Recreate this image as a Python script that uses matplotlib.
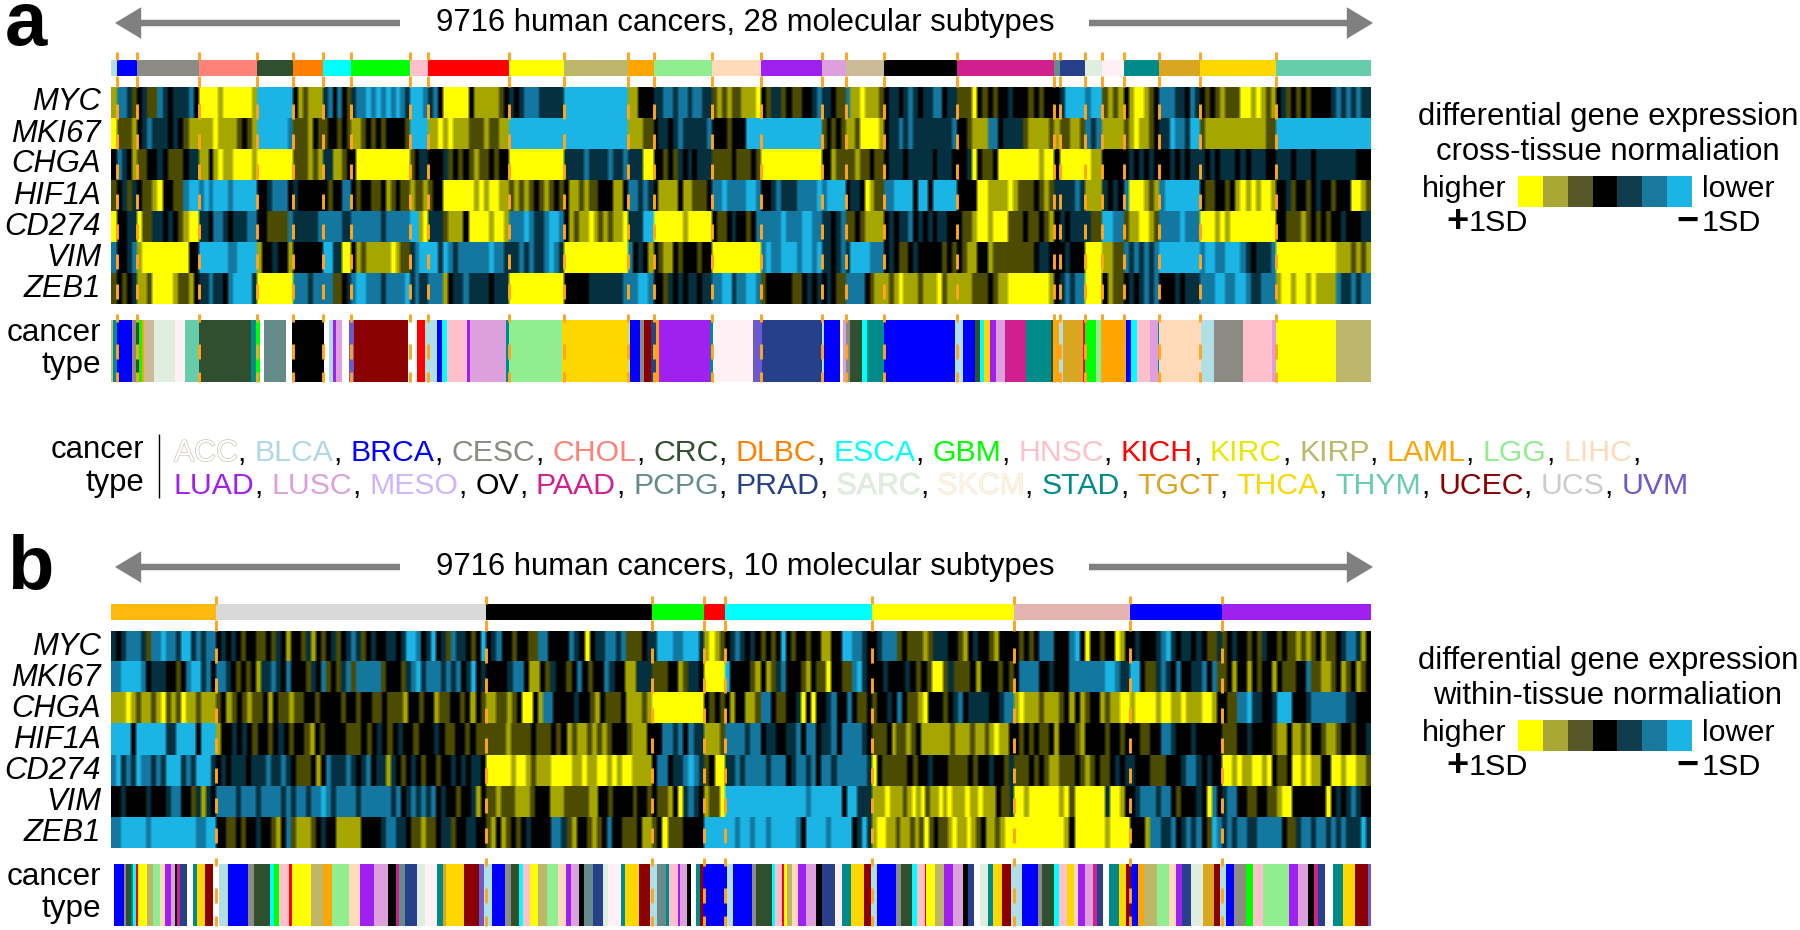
#!/usr/bin/env python3
"""Two-panel expression heat strip: 9716 tumours by molecular subtype."""

import numpy as np
import matplotlib
matplotlib.use('Agg')
import matplotlib.pyplot as plt
import matplotlib.patheffects as pe
from matplotlib.colors import ListedColormap, to_rgb

plt.rcParams['font.family'] = ['Liberation Sans', 'DejaVu Sans']

W, H = 1800, 930
N_SAMPLES = 9716
HEAT_X0, HEAT_X1 = 111, 1371

GENES = ['MYC', 'MKI67', 'CHGA', 'HIF1A', 'CD274', 'VIM', 'ZEB1']

# 0 = yellow (+1SD) ... 3 = black ... 6 = blue (-1SD)
KEY_COLORS = ['#FFFF00', '#A8A836', '#575728', '#000000', '#0F3D4D', '#18799C', '#1BB5E5']
HEAT_COLORS = ['#FFFF00', '#A6A600', '#4C4C00', '#000000', '#05303F', '#14789F', '#1BB5E5']

CANCER_COLORS = {
    'ACC': '#CDBA96', 'BLCA': '#B0E0E6', 'BRCA': '#0000FF', 'CESC': '#8B8B83',
    'CHOL': '#FF8278', 'CRC': '#2F4F2F', 'DLBC': '#FF8000', 'ESCA': '#00FFFF',
    'GBM': '#00FF00', 'HNSC': '#FFC0CB', 'KICH': '#FF0000', 'KIRC': '#FFFF00',
    'KIRP': '#BDB76B', 'LAML': '#FFA500', 'LGG': '#90EE90', 'LIHC': '#FFDAB9',
    'LUAD': '#A020F0', 'LUSC': '#DDA0DD', 'MESO': '#CDB5FF', 'OV': '#000000',
    'PAAD': '#D02090', 'PCPG': '#668B8B', 'PRAD': '#27408B', 'SARC': '#E0EEE0',
    'SKCM': '#FFF0F5', 'STAD': '#008B8B', 'TGCT': '#DAA520', 'THCA': '#FFD700',
    'THYM': '#66CDAA', 'UCEC': '#8B0000', 'UCS': '#CCCCCC', 'UVM': '#6A5ACD',
    '-': '#FFFFFF',
}
LEGEND_WORD_COLORS = {'ACC': '#FFFFFF', 'SKCM': '#FFF3E0', 'KIRC': '#E8E800', 'BLCA': '#ADD8E6'}
LEGEND_LINE1 = ['ACC', 'BLCA', 'BRCA', 'CESC', 'CHOL', 'CRC', 'DLBC', 'ESCA', 'GBM',
                'HNSC', 'KICH', 'KIRC', 'KIRP', 'LAML', 'LGG', 'LIHC']
LEGEND_LINE2 = ['LUAD', 'LUSC', 'MESO', 'OV', 'PAAD', 'PCPG', 'PRAD', 'SARC', 'SKCM',
                'STAD', 'TGCT', 'THCA', 'THYM', 'UCEC', 'UCS', 'UVM']

# panel a: 28 subtypes
A_SIZES = [46, 151, 482, 444, 283, 230, 217, 455, 134, 630, 423, 489, 200, 450,
           378, 471, 182, 296, 561, 750, 46, 193, 131, 169, 274, 312, 586, 733]
A_COLORS = ['#B0E0E6', '#0000FF', '#8B8B83', '#FF8278', '#2F4F2F', '#FF8000', '#00FFFF',
            '#00FF00', '#FFC0CB', '#FF0000', '#FFFF00', '#BDB76B', '#FFA500', '#90EE90',
            '#FFDAB9', '#A020F0', '#DDA0DD', '#CDBA96', '#000000', '#D02090', '#668B8B',
            '#27408B', '#E0EEE0', '#FFF0F5', '#008B8B', '#DAA520', '#FFD700', '#66CDAA']

A_MYC = ["1", "5542", "342254344453", "000010000001", "6666666", "312111", "453532", "455656565654", "6665", "4530000031111123", "43455544444", "6666666666666", "11333", "445545545544", "2121221110", "324423223345", "44322", "51101112", "344345434455344", "2220323233433323233", "3", "46666", "566", "2121", "3100123", "55544354", "323212220010121", "3423232333345454544"]
A_MKI67 = ["0", "2221", "345444343211", "111011112321", "6666665", "222132", "233232", "112323233332", "6666", "1101011122212211", "66666666666", "6666666666666", "11122", "344345444445", "3332333666", "666666666666", "23232", "11200001", "344545444444445", "3321115534444211112", "1", "22112", "545", "1111", "2101123", "44655466", "211111111111122", "6666666666666666666"]
A_CHGA = ["3", "5431", "223343222344", "113101100001", "0000000", "222121", "441123", "300000000000", "2344", "3334232321223233", "00000000000", "4444544445445", "44400", "332324343444", "2222322232", "000000000000", "33122", "22122322", "344434444434443", "3340322300000000100", "3", "00000", "011", "3333", "3434343", "33434344", "434344434344433", "4443444344444444333"]
A_HIF1A = ["2", "3424", "322103322566", "565666566666", "3345553", "433333", "323355", "323322312322", "1221", "2330000001010011", "21212321232", "3112122333113", "55454", "311113112223", "5565555665", "334544455556", "56666", "34430122", "556666366366666", "3333001111012223212", "4", "44454", "111", "4343", "5000121", "56666666", "322332310101001", "3342332343323330012"]
A_CD274 = ["0", "3344", "022443432100", "443554344455", "3322225", "444445", "555544", "555555455555", "6610", "4442111300001001", "55565445665", "3121101212110", "44466", "000000100000", "3223433235", "555565556655", "44345", "22321111", "343445343434433", "3221001000222322321", "3", "43444", "422", "6655", "2110012", "55556555", "000101000000000", "3322212323233433344"]
A_VIM = ["5", "3345", "100000000033", "666666556666", "1334331", "333333", "664400", "312111110122", "4566", "6646545555556554", "44545445654", "0000000000000", "53431", "321132333233", "0000000000", "565566656656", "44345", "46666555", "343223433333232", "3211331222222223443", "3", "34333", "000", "1122", "5454545", "66666666", "566556665434445", "0000000000001112121"]
A_ZEB1 = ["2", "3234", "112000012213", "445443566664", "0000000", "555455", "552234", "566555455556", "4544", "5551344544443444", "00000000000", "3333344444445", "55665", "332434344344", "5566455665", "233333223434", "34322", "55553211", "121011121110211", "1112223211000000001", "3", "45455", "000", "3122", "3434545", "33343444", "555665566544555", "1001001011115445455"]

# cancer type runs, read as (code, end position) along the strip
A_TYPES_LEFT = [('ACC', 253), ('STAD', 262), ('BRCA', 295), ('CESC', 305), ('CRC', 311), ('GBM', 317), ('LAML', 323),
                ('ACC', 345), ('SARC', 393), ('SKCM', 414), ('THYM', 446), ('CRC', 563), ('STAD', 573), ('GBM', 582),
                ('-', 592), ('PCPG', 641), ('-', 655), ('OV', 725), ('-', 738), ('BLCA', 745), ('LUAD', 752),
                ('LUSC', 765), ('-', 782), ('UVM', 793), ('UCEC', 914), ('-', 935), ('KICH', 951), ('BLCA', 980),
                ('BRCA', 990), ('ESCA', 1002), ('HNSC', 1047), ('LUAD', 1053), ('LUSC', 1134), ('STAD', 1141),
                ('LGG', 1260), ('THCA', 1408), ('BLCA', 1412), ('BRCA', 1434), ('CESC', 1442), ('UCEC', 1458),
                ('PRAD', 1470), ('LAML', 1476)]
A_TYPES_RIGHT = [('LUAD', 68), ('STAD', 75), ('SKCM', 163), ('UVM', 183), ('PRAD', 318), ('BLCA', 322), ('BRCA', 358),
                 ('-', 366), ('LUSC', 372), ('CESC', 380), ('CRC', 408), ('ESCA', 420), ('STAD', 456), ('BRCA', 617),
                 ('BLCA', 635), ('BRCA', 660), ('CRC', 672), ('ESCA', 680), ('THCA', 694), ('LUAD', 708), ('LUSC', 728),
                 ('PAAD', 775), ('STAD', 830), ('CRC', 835), ('LAML', 850), ('BLCA', 858), ('TGCT', 902), ('KICH', 908),
                 ('GBM', 932), ('LGG', 944), ('LAML', 998), ('BRCA', 1010), ('ESCA', 1024), ('HNSC', 1053), ('LUSC', 1070),
                 ('STAD', 1074), ('LIHC', 1168), ('BLCA', 1196), ('CESC', 1261), ('HNSC', 1326), ('LUSC', 1336),
                 ('KIRC', 1470), ('KIRP', 1548)]

# panel b: 10 subtypes
B_SIZES = [810, 2082, 1280, 401, 162, 1133, 1095, 895, 709, 1149]
B_COLORS = ['#FFB90F', '#D9D9D9', '#000000', '#00FF00', '#FF0000', '#00FFFF', '#FFFF00',
            '#E6B3B3', '#0000FF', '#A020F0']

B_MYC = ["434555425565546645455", "343432332232431332413234234542343344346653463425443236", "34533233225533335430344554522234", "4666556664", "1012", "34543432323632332331133665543", "3455523222124443321343321333", "32323555333563033233013", "343334564344343224", "234332324332322121231223455413"]
B_MKI67 = ["556666534443323566453", "554323231445435333243523245255555233324564555454534634", "3333455311324332353233543311444", "2223312443", "0000", "63333213124533321322033225643", "33433343232002422231333232", "35555334333555555566544", "663224543533445352", "231331323313222335221123123123"]
B_CHGA = ["111012112102120112111", "2312321223132212233233332332332232221332331223323132", "11221230031553333433213222311121", "0000000000", "3232", "31331125532233403033453353223", "2334353221033323453444433455", "10111211123131233121100", "100001001101110013", "322556443346663334555555544333"]
B_HIF1A = ["666636666664466663666", "1334343233234323321323333222323432343323334322332322", "222212222322232312112121233321113", "3355453544", "1112", "55554553443344535534453555543", "22231221231111112111211210113", "32323223133321333323323", "332233554333433333", "222334333321131121332112332334"]
B_CD274 = ["564546554546664546664", "343444344454454322231354445434534414323432332334343443", "000001001211100001101100101001111", "3553445654", "2300", "44545555455534554535545555554", "0322222323343332222323343324", "22232321122232123223434", "433322233345543433", "001011001032230010113300100112"]
B_VIM = ["334333343334553324143", "555545554555545455455654555545555554534545453433233413", "2212221112333111222221133233332332", "3221304543", "1220", "66666666666666665666666366444", "11101112101021101011101101113224", "00100000010200000040013", "345554553233343053", "455332233221003333333034345433"]
B_ZEB1 = ["556666656666666665566", "332232334332135211123433111113333455443221223442334433", "213123234333355421332123533222311", "2302223333", "6666", "66566566566666536666566663464", "100112112120232210110123112100", "00000000001300000010000", "333155445345453265", "454554455555322455455454544464"]

B_TYPES_LEFT = [('-', 255), ('BRCA', 278), ('CESC', 283), ('CRC', 293), ('STAD', 298), ('ESCA', 305), ('KICH', 310),
                ('KIRC', 330), ('KIRP', 342), ('LGG', 358), ('LIHC', 370), ('LUAD', 384), ('LUSC', 392), ('OV', 396),
                ('PAAD', 403), ('PRAD', 419), ('-', 432), ('STAD', 441), ('THCA', 460), ('UCEC', 478), ('-', 490),
                ('BLCA', 510), ('BRCA', 556), ('CESC', 570), ('CRC', 605), ('ESCA', 613), ('GBM', 625), ('HNSC', 647),
                ('KICH', 653), ('KIRC', 696), ('KIRP', 723), ('LAML', 744), ('LGG', 782), ('LIHC', 806), ('LUAD', 838),
                ('LUSC', 869), ('OV', 887), ('PAAD', 893), ('PCPG', 907), ('PRAD', 933), ('SARC', 953), ('SKCM', 979),
                ('STAD', 992), ('TGCT', 1000), ('THCA', 1040), ('UCEC', 1073), ('UVM', 1085), ('BLCA', 1102),
                ('BRCA', 1132), ('CESC', 1145), ('CRC', 1162), ('ESCA', 1172), ('HNSC', 1187), ('KIRC', 1205),
                ('KIRP', 1225), ('LGG', 1250), ('LIHC', 1267), ('LUAD', 1280), ('LUSC', 1297), ('OV', 1308),
                ('PCPG', 1328), ('PRAD', 1350), ('SARC', 1362), ('SKCM', 1391), ('STAD', 1401), ('THCA', 1432),
                ('UCEC', 1455), ('BLCA', 1472), ('PCPG', 1492), ('STAD', 1498), ('HNSC', 1518), ('LUAD', 1524),
                ('LUSC', 1538), ('OV', 1548), ('LIHC', 1568)]
B_TYPES_RIGHT = [('LUSC', 15), ('OV', 25), ('-', 35), ('STAD', 45), ('UCEC', 52), ('BRCA', 105), ('BLCA', 118),
                 ('BRCA', 162), ('CESC', 170), ('CRC', 205), ('ESCA', 212), ('HNSC', 228), ('KICH', 233), ('KIRC', 240),
                 ('KIRP', 252), ('LIHC', 265), ('LUAD', 283), ('LUSC', 305), ('OV', 318), ('PRAD', 348), ('SKCM', 362),
                 ('STAD', 382), ('THCA', 412), ('UCEC', 428), ('BLCA', 442), ('BRCA', 483), ('CESC', 495), ('CRC', 520),
                 ('ESCA', 532), ('HNSC', 548), ('KICH', 552), ('KIRC', 572), ('KIRP', 592), ('LUAD', 612), ('LUSC', 634),
                 ('OV', 645), ('PRAD', 658), ('-', 672), ('SARC', 690), ('STAD', 702), ('THCA', 722), ('UCEC', 742),
                 ('BLCA', 765), ('BRCA', 802), ('CESC', 810), ('CRC', 838), ('ESCA', 848), ('HNSC', 868), ('THCA', 882),
                 ('LIHC', 892), ('LUAD', 908), ('LUSC', 925), ('PAAD', 935), ('PRAD', 948), ('-', 960), ('STAD', 983),
                 ('THCA', 998), ('UCEC', 1010), ('BRCA', 1025), ('LAML', 1040), ('KIRP', 1068), ('LGG', 1095),
                 ('LIHC', 1112), ('LUAD', 1125), ('PRAD', 1145), ('SARC', 1172), ('TGCT', 1197), ('UCEC', 1210),
                 ('BLCA', 1222), ('BRCA', 1241), ('CESC', 1268), ('GBM', 1284), ('HNSC', 1306), ('LGG', 1365),
                 ('LUAD', 1385), ('LUSC', 1407), ('OV', 1420), ('PAAD', 1430), ('PRAD', 1445), ('-', 1463),
                 ('STAD', 1485), ('THCA', 1513), ('UCEC', 1541), ('UVM', 1548)]

DIVIDER = '#FFA51F'
ARROW = '#808080'
LABEL_PX = 30.5
GENE_PX = 31


def pt(px):
    return px * 72 / 100


fig = plt.figure(figsize=(W / 100, H / 100), dpi=100, facecolor='white')


def strip_axes(y0, y1):
    ax = fig.add_axes([HEAT_X0 / W, 1 - y1 / H, (HEAT_X1 - HEAT_X0) / W, (y1 - y0) / H])
    ax.set_xlim(0, N_SAMPLES)
    ax.axis('off')
    return ax


def draw_bar(y0, y1, sizes, colors):
    ax = strip_axes(y0, y1)
    ax.set_ylim(0, 1)
    left = np.concatenate([[0], np.cumsum(sizes)[:-1]])
    ax.barh(0.5, sizes, left=left, height=1, color=colors, linewidth=0)


def draw_heat(y0, y1, rows, sizes):
    ax = strip_axes(y0, y1)
    edges = np.concatenate([[0], np.cumsum(sizes)])
    palette = np.array([to_rgb(c) for c in HEAT_COLORS])
    n_cols = HEAT_X1 - HEAT_X0
    centers = (np.arange(n_cols) + 0.5) / n_cols * N_SAMPLES
    img = np.zeros((len(rows), n_cols, 3))
    for i, row in enumerate(rows):
        xs = [np.linspace(edges[j], edges[j + 1], len(s), endpoint=False) for j, s in enumerate(row)]
        xs = np.concatenate(xs)
        vals = np.array([int(c) for c in ''.join(row)])
        rgb = palette[vals[np.searchsorted(xs, centers, side='right') - 1]]
        # the source is a soft bitmap, so take the hard edge off the stripes
        pad = np.pad(rgb, ((1, 1), (0, 0)), mode='edge')
        img[i] = (pad[:-2] + pad[1:-1] + pad[2:]) / 3
    ax.imshow(img, extent=(0, N_SAMPLES, len(rows), 0), aspect='auto', interpolation='nearest')
    ax.axis('off')


def draw_types(y0, y1, left_runs, right_runs):
    ax = strip_axes(y0, y1)
    ax.set_ylim(0, 1)
    # positions were read at 2.24 units per pixel, the right half from x=680
    ends = [e for _, e in left_runs] + [e + 680 * 2.24 for _, e in right_runs]
    ends = (np.array(ends) - HEAT_X0 * 2.24) / ((HEAT_X1 - HEAT_X0) * 2.24) * N_SAMPLES
    starts = np.concatenate([[0], ends[:-1]])
    codes = [c for c, _ in left_runs + right_runs]
    ax.barh(0.5, ends - starts, left=starts, height=1,
            color=[CANCER_COLORS[c] for c in codes], linewidth=0)


overlay = fig.add_axes([0, 0, 1, 1], zorder=10)
overlay.set_xlim(0, W)
overlay.set_ylim(H, 0)
overlay.axis('off')
overlay.patch.set_alpha(0)


def panel(letter, letter_xy, dy, title, sizes, colors, rows, left_runs, right_runs, norm_label):
    """dy is the vertical offset of the panel, layout below is given for panel a."""
    bar = (60 + dy, 76 + dy)
    heat = (87 + dy, 304 + dy)
    types = (320 + dy, 382 + dy)
    draw_bar(bar[0], bar[1], sizes, colors)
    draw_heat(heat[0], heat[1], rows, sizes)
    draw_types(types[0], types[1], left_runs, right_runs)

    overlay.text(letter_xy[0], letter_xy[1], letter, fontsize=pt(76), fontweight='bold', va='baseline', ha='left')
    overlay.text(745, 23 + dy, title, fontsize=pt(31), ha='center', va='center')
    for x0, x1 in [(400, 115), (1089, 1373)]:
        overlay.annotate('', xy=(x1, 23 + dy), xytext=(x0, 23 + dy),
                         arrowprops=dict(arrowstyle='simple,head_length=1.45,head_width=1.75,tail_width=0.36',
                                         color=ARROW, shrinkA=0, shrinkB=0, lw=0, mutation_scale=13))

    row_h = (heat[1] - heat[0]) / len(GENES)
    for i, gene in enumerate(GENES):
        overlay.text(101, heat[0] + row_h * (i + 0.5), gene, fontsize=pt(GENE_PX), style='italic',
                     ha='right', va='center')
    overlay.text(101, 333 + dy, 'cancer', fontsize=pt(31.5), ha='right', va='center')
    overlay.text(101, 365 + dy, 'type', fontsize=pt(31.5), ha='right', va='center')

    # subtype dividers, broken over the strips
    edges = HEAT_X0 + np.cumsum(sizes)[:-1] / N_SAMPLES * (HEAT_X1 - HEAT_X0)
    dashes = [(52, 60), (76, 87)] + [(104 + 30 * k, 119 + 30 * k) for k in range(7)] + [(314, 322), (344, 359), (372, 382)]
    for a, b in dashes:
        overlay.vlines(edges, a + dy, b + dy, colors=DIVIDER, linewidth=2.1)

    # level key
    overlay.text(1608, 117 + dy, 'differential gene expression', fontsize=pt(LABEL_PX + 0.5), ha='center', va='center')
    overlay.text(1608, 152 + dy, norm_label, fontsize=pt(LABEL_PX + 0.5), ha='center', va='center')
    key = fig.add_axes([1518 / W, 1 - (207 + dy) / H, 174 / W, 31 / H])
    key.imshow([np.arange(7)], cmap=ListedColormap(KEY_COLORS), vmin=-0.5, vmax=6.5, aspect='auto',
               interpolation='nearest')
    key.axis('off')
    overlay.text(1507, 189 + dy, 'higher', fontsize=pt(LABEL_PX), ha='right', va='center')
    overlay.text(1702, 189 + dy, 'lower', fontsize=pt(LABEL_PX), ha='left', va='center')
    overlay.text(1469, 223 + dy, '1SD', fontsize=pt(LABEL_PX), ha='left', va='center')
    overlay.text(1702, 223 + dy, '1SD', fontsize=pt(LABEL_PX), ha='left', va='center')
    overlay.text(1457, 222 + dy, '+', fontsize=pt(38), fontweight='bold', ha='center', va='center')
    overlay.text(1688, 222 + dy, '\u2212', fontsize=pt(38), fontweight='bold', ha='center', va='center')


panel('a', (5, 45), 0, '9716 human cancers, 28 molecular subtypes', A_SIZES, A_COLORS,
      [A_MYC, A_MKI67, A_CHGA, A_HIF1A, A_CD274, A_VIM, A_ZEB1], A_TYPES_LEFT, A_TYPES_RIGHT,
      'cross-tissue normaliation')
panel('b', (7, 589), 544, '9716 human cancers, 10 molecular subtypes', B_SIZES, B_COLORS,
      [B_MYC, B_MKI67, B_CHGA, B_HIF1A, B_CD274, B_VIM, B_ZEB1], B_TYPES_LEFT, B_TYPES_RIGHT,
      'within-tissue normaliation')

# cancer type legend, words set one after the other
overlay.text(144, 450, 'cancer', fontsize=pt(31), ha='right', va='center')
overlay.text(144, 483, 'type', fontsize=pt(31), ha='right', va='center')
overlay.vlines(159, 434, 498, colors='black', linewidth=1)

renderer = fig.canvas.get_renderer()


def legend_line(codes, y, x=174):
    for k, code in enumerate(codes):
        kw = {}
        if code == 'ACC':
            kw['path_effects'] = [pe.withStroke(linewidth=0.8, foreground='#BEB7A5')]
        elif code in ('SARC', 'SKCM'):
            kw['path_effects'] = [pe.withStroke(linewidth=0.4, foreground='#D8DDD0')]
        color = LEGEND_WORD_COLORS.get(code, CANCER_COLORS[code])
        t = overlay.text(x, y, code, fontsize=pt(30.3), color=color, ha='left', va='center_baseline', **kw)
        x = t.get_window_extent(renderer).x1
        if k < len(codes) - 1 or code == 'LIHC':
            overlay.text(x, y, ',', fontsize=pt(30.3), color='black', ha='left', va='center_baseline')
            x += 17


legend_line(LEGEND_LINE1, 450)
legend_line(LEGEND_LINE2, 483)

plt.savefig('out.png', dpi=100)
